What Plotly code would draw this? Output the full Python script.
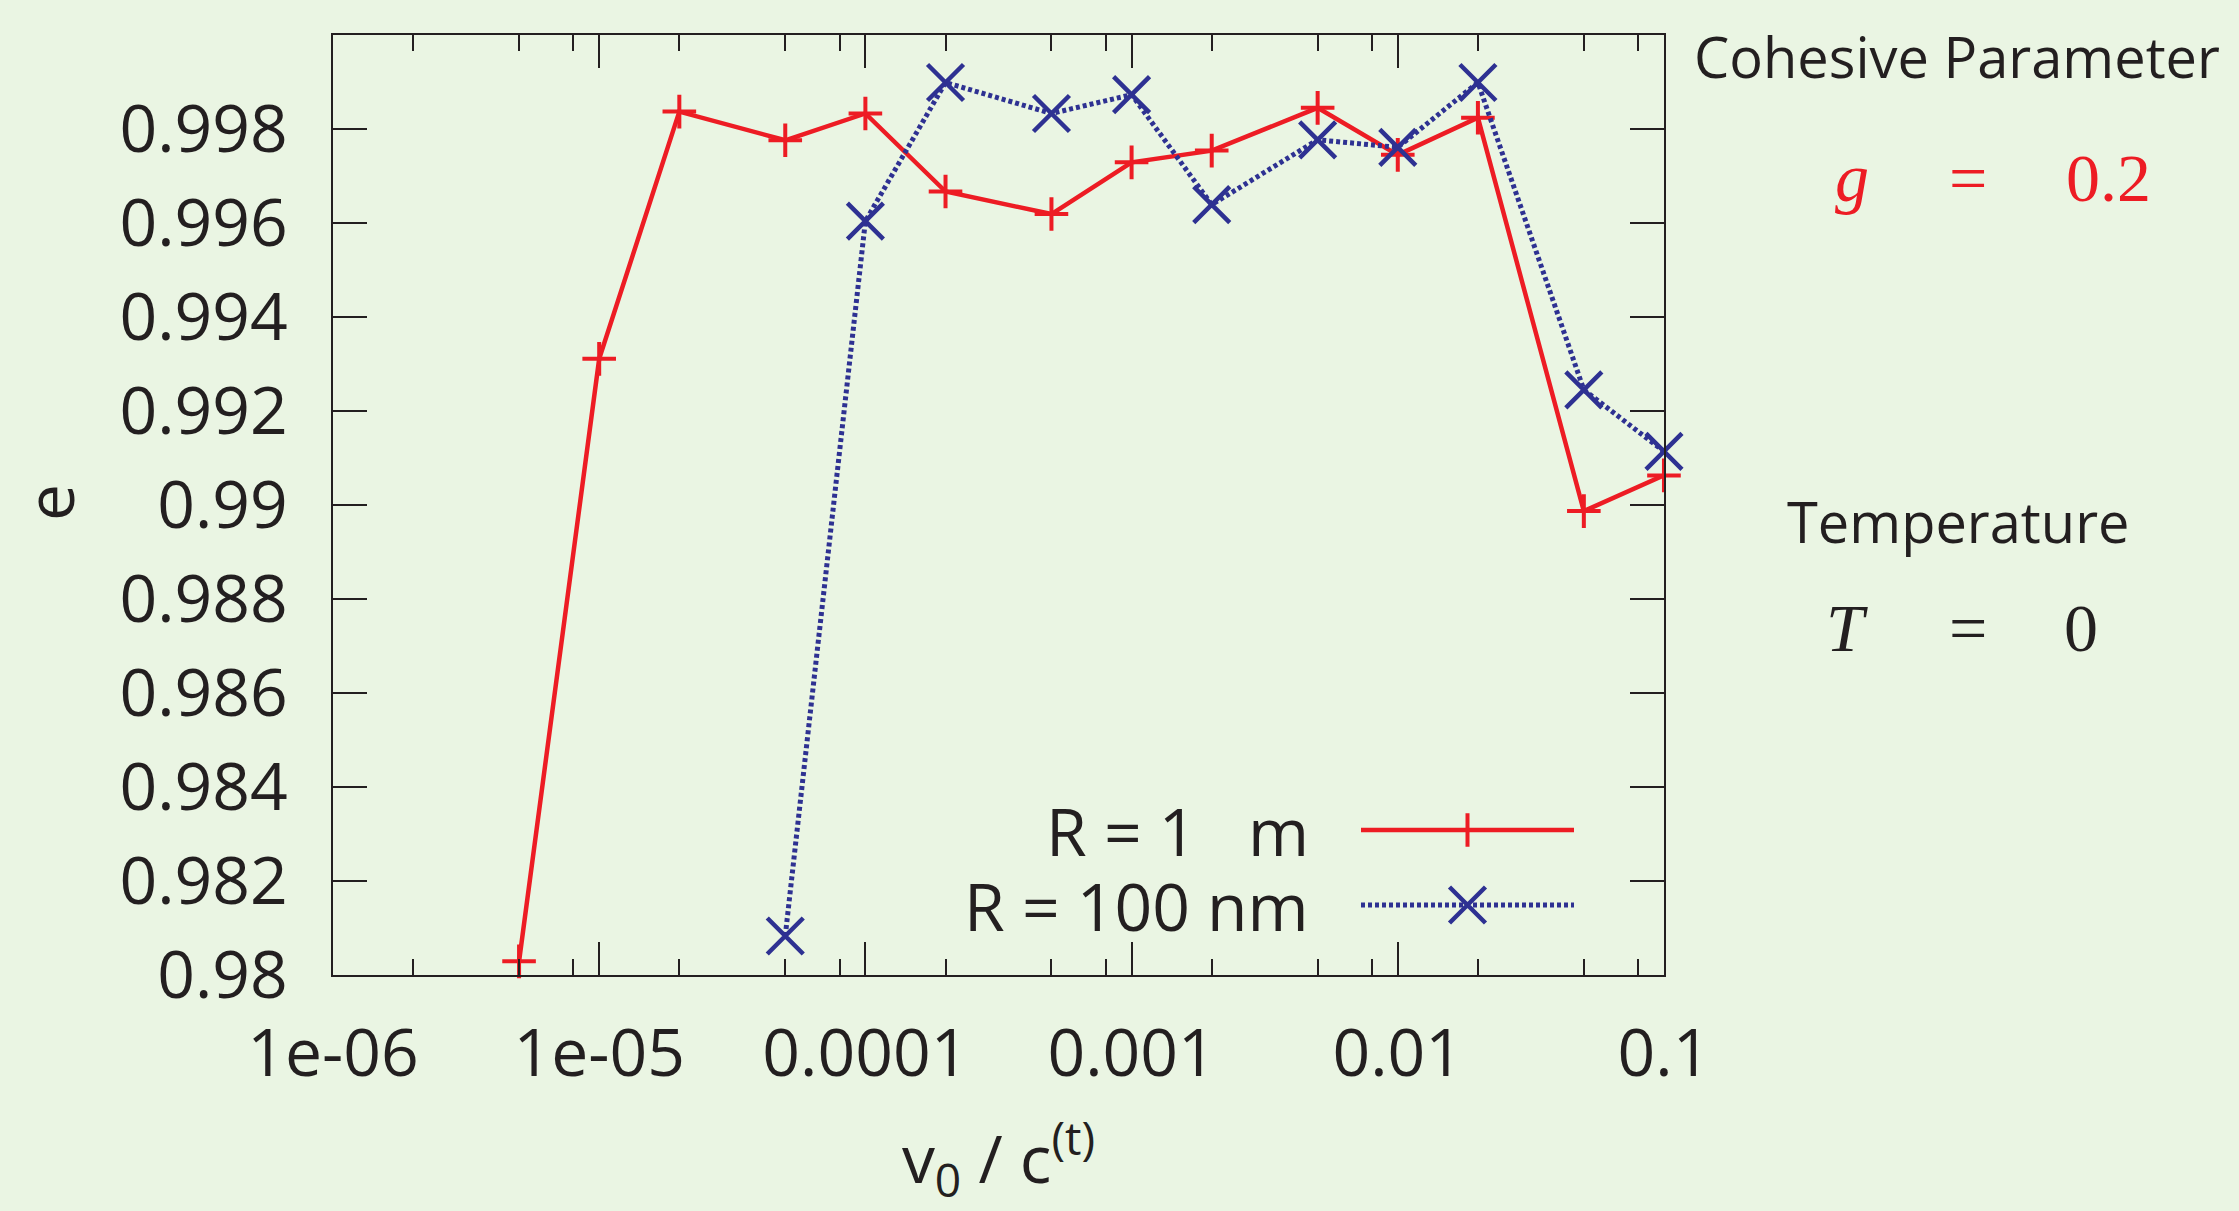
import plotly.graph_objects as go

# ---------------- data ----------------
v_ratio_R1m = [5e-6, 1e-5, 2e-5, 5e-5, 1e-4, 2e-4, 5e-4, 1e-3, 2e-3, 5e-3, 1e-2, 2e-2, 5e-2, 1e-1]
e_R1m = [0.98029, 0.99311, 0.99837, 0.99776, 0.99833, 0.99667, 0.99619,
         0.99729, 0.99754, 0.99845, 0.99745, 0.99824, 0.98987, 0.99063]

v_ratio_R100nm = [5e-5, 1e-4, 2e-4, 5e-4, 1e-3, 2e-3, 5e-3, 1e-2, 2e-2, 5e-2, 1e-1]
e_R100nm = [0.98083, 0.99604, 0.99899, 0.99833, 0.99873, 0.99639,
            0.99777, 0.99761, 0.99899, 0.99245, 0.99114]

series_names = ["R = 1   m", "R = 100 nm"]

x_tick_vals = [1e-6, 1e-5, 1e-4, 1e-3, 1e-2, 1e-1]
x_tick_text = ["1e-06", "1e-05", "0.0001", "0.001", "0.01", "0.1"]
x_minor_vals = [2e-6, 5e-6, 8e-6, 2e-5, 5e-5, 8e-5, 2e-4, 5e-4, 8e-4,
                2e-3, 5e-3, 8e-3, 2e-2, 5e-2, 8e-2]
y_tick_vals = [0.98, 0.982, 0.984, 0.986, 0.988, 0.99, 0.992, 0.994, 0.996, 0.998, 1.0]
y_tick_text = ["0.98", "0.982", "0.984", "0.986", "0.988", "0.99",
               "0.992", "0.994", "0.996", "0.998", "1"]

# ---------------- styles ----------------
W, H = 2239, 1211
L, R, T, B = 333, 575, 35, 236
BG = "#EAF5E3"
INK = "#231F20"
RED = "#ED1C24"
BLUE = "#2E3192"
SANS = "Open Sans"
SERIF = "Liberation Serif"

red_line = dict(color=RED, width=4.5)
blue_line = dict(color=BLUE, width=5, dash="4px,3px")
red_marker = dict(symbol="cross-thin", size=24, color=RED, line=dict(color=RED, width=4))
blue_marker = dict(symbol="x-thin", size=36, color=BLUE, line=dict(color=BLUE, width=4.5))

fig = go.Figure()
fig.add_trace(go.Scatter(x=v_ratio_R1m, y=e_R1m, mode="lines+markers", name=series_names[0],
                         line=red_line, marker=red_marker, cliponaxis=False, showlegend=False))
fig.add_trace(go.Scatter(x=v_ratio_R100nm, y=e_R100nm, mode="lines+markers", name=series_names[1],
                         line=blue_line, marker=blue_marker, cliponaxis=False, showlegend=False))

# ---------------- hand-made legend (text left of key, gnuplot style) ----------------
def px_x(p):
    return (p - L) / (W - L - R)

def px_y(p):
    return (H - B - p) / (H - T - B)

key_x0, key_x1 = px_x(1361), px_x(1574)
key_mid = (key_x0 + key_x1) / 2
rows = [px_y(830), px_y(905)]
styles = [(red_line, red_marker), (blue_line, blue_marker)]
for name, yy, (ln, mk) in zip(series_names, rows, styles):
    fig.add_trace(go.Scatter(x=[key_x0, key_x1], y=[yy, yy], mode="lines", line=ln,
                             xaxis="x2", yaxis="y2", showlegend=False, hoverinfo="skip"))
    fig.add_trace(go.Scatter(x=[key_mid], y=[yy], mode="markers", marker=mk,
                             xaxis="x2", yaxis="y2", showlegend=False, hoverinfo="skip",
                             cliponaxis=False))
    fig.add_annotation(x=px_x(1311), y=yy, xref="paper", yref="paper", text=name,
                       showarrow=False, xanchor="right", yanchor="middle",
                       font=dict(family=SANS, size=66, color=INK))

axis_common = dict(showline=True, linecolor=INK, linewidth=2, mirror="ticks",
                   ticks="inside", tickcolor=INK, tickwidth=1.8, showgrid=False, zeroline=False,
                   tickfont=dict(family=SANS, size=66, color=INK))

fig.update_layout(
    width=W, height=H,
    margin=dict(l=L, r=R, t=T, b=B, autoexpand=False),
    paper_bgcolor=BG, plot_bgcolor=BG,
    xaxis=dict(type="log", range=[-6, -0.9999], tickmode="array", tickvals=x_tick_vals,
               ticktext=x_tick_text, ticklen=33, ticklabelstandoff=20,
               minor=dict(tickmode="array", tickvals=x_minor_vals, ticks="inside",
                          ticklen=16, tickcolor=INK, tickwidth=1.8),
               title=dict(text="v<sub>0</sub> / c<sup>(t)</sup>", standoff=54,
                          font=dict(family=SANS, size=66, color=INK)),
               **axis_common),
    yaxis=dict(range=[0.98, 1.0], tickmode="array", tickvals=y_tick_vals, ticktext=y_tick_text,
               ticklen=34, ticklabelstandoff=30, **axis_common),
    xaxis2=dict(overlaying="x", range=[0, 1], visible=False, fixedrange=True),
    yaxis2=dict(overlaying="y", range=[0, 1], visible=False, fixedrange=True),
    showlegend=False,
)

# y-axis title
fig.add_annotation(x=px_x(48), y=px_y(503), xref="paper", yref="paper", text="e",
                   textangle=-90, showarrow=False, xanchor="center", yanchor="middle",
                   font=dict(family=SANS, size=66, color=INK))

# right-hand side texts
fig.add_annotation(x=px_x(1692), y=px_y(56), xref="paper", yref="paper", text="Cohesive Parameter",
                   showarrow=False, xanchor="left", yanchor="middle",
                   font=dict(family=SANS, size=56, color=INK))
fig.add_annotation(x=px_x(1958), y=px_y(521), xref="paper", yref="paper", text="Temperature",
                   showarrow=False, xanchor="center", yanchor="middle",
                   font=dict(family=SANS, size=56, color=INK))

for txt, cx, cy, col in [("<i>g</i>", 1852, 178, RED), ("=", 1968, 178, RED), ("0.2", 2108, 178, RED),
                         ("<i>T</i>", 1847, 628, INK), ("=", 1968, 628, INK), ("0", 2081, 628, INK)]:
    fig.add_annotation(x=px_x(cx), y=px_y(cy), xref="paper", yref="paper", text=txt,
                       showarrow=False, xanchor="center", yanchor="middle",
                       font=dict(family=SERIF, size=68, color=col))

fig.write_html("out.html", config={"displayModeBar": False},
               post_script="document.body.style.margin='0';")
